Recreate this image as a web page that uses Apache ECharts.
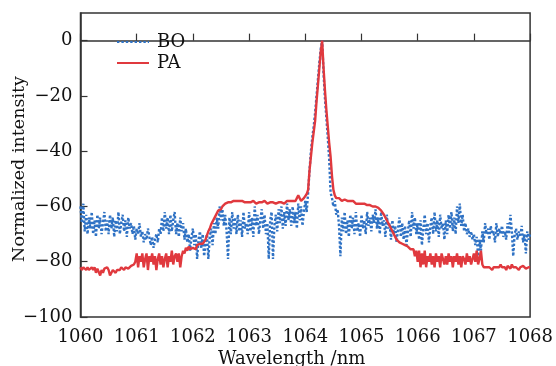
<!DOCTYPE html>
<html>
<head>
<meta charset="utf-8">
<script src="https://cdn.jsdelivr.net/npm/echarts@6/dist/echarts.min.js"></script>
<style>
html,body{margin:0;padding:0;background:#fff;}
#chart{width:556px;height:366px;}
</style>
</head>
<body>
<div id="chart"></div>
<script>
// Wavelength grid: 1060 nm to 1068 nm, sampled every 0.025 nm
const wlStart = 1060;
const wlStep = 0.025;

const xTicks = [1060, 1061, 1062, 1063, 1064, 1065, 1066, 1067, 1068];
const yTicks = [-100, -80, -60, -40, -20, 0];

const seriesNames = ['BO', 'PA'];

// BO (blue dotted) normalized intensity values
const boValues = [
  -60,-66,-59,-69,-63,-70,-64,-68,-62,-70,
  -65,-71,-63,-68,-64,-70,-66,-62,-69,-65,
  -70,-63,-68,-64,-71,-65,-69,-62,-70,-66,
  -63,-69,-65,-71,-64,-68,-66,-70,-67,-72,
  -68,-70,-66,-71,-69,-73,-70,-72,-68,-71,
  -74,-71,-75,-72,-70,-73,-68,-70,-64,-69,
  -62,-68,-64,-70,-63,-69,-65,-62,-70,-66,
  -71,-64,-69,-66,-72,-68,-73,-70,-76,-71,
  -68,-74,-70,-79,-72,-69,-75,-70,-78,-73,
  -70,-79,-71,-68,-74,-66,-70,-64,-68,-60,
  -65,-61,-67,-63,-69,-79,-64,-70,-62,-68,
  -64,-70,-63,-69,-65,-71,-62,-68,-66,-70,
  -62,-69,-64,-71,-60,-67,-63,-70,-65,-61,
  -68,-63,-70,-66,-79,-65,-62,-79,-67,-63,
  -69,-61,-66,-60,-68,-62,-67,-59,-65,-61,
  -67,-60,-66,-62,-68,-59,-65,-60,-67,-62,
  -58,-62,-55,-47,-40,-35,-31,-26,-20,-14,
  -8,-3,0,-12,-21,-28,-35,-43,-55,-57,
  -60,-58,-63,-61,-67,-78,-64,-69,-62,-70,
  -65,-71,-63,-68,-64,-70,-62,-69,-66,-71,
  -63,-68,-65,-70,-62,-67,-64,-69,-63,-66,
  -61,-68,-64,-70,-62,-67,-65,-71,-63,-68,
  -66,-72,-65,-70,-67,-73,-68,-64,-71,-66,
  -72,-67,-74,-69,-65,-71,-62,-68,-64,-70,
  -66,-72,-65,-74,-68,-63,-70,-66,-73,-67,
  -64,-70,-62,-69,-65,-71,-63,-68,-66,-72,
  -65,-70,-63,-68,-62,-69,-64,-70,-60,-66,
  -59,-67,-63,-69,-66,-70,-68,-71,-69,-72,
  -70,-74,-71,-78,-72,-76,-69,-73,-66,-70,
  -68,-72,-67,-70,-69,-73,-66,-71,-68,-70,
  -67,-71,-69,-72,-66,-70,-63,-69,-78,-70,
  -68,-72,-69,-71,-67,-73,-70,-77,-69,-72,
  -70
];

// PA (red solid) normalized intensity values
const paValues = [
  -82,-83,-82,-82.5,-83,-82,-83,-82.5,-82,-83,
  -82,-84,-82.5,-83,-85,-83,-84,-82.5,-83,-82,
  -83,-85,-84,-83,-82.5,-84,-83,-82.5,-83,-82,
  -82.5,-83,-82,-81.5,-82.5,-82,-81.5,-82,-81,-80,
  -77,-82,-78,-80,-77,-82,-79,-77,-83,-78,
  -80,-77,-81,-78,-83,-79,-77,-81,-78,-82,
  -79,-77,-82,-78,-80,-76,-81,-78,-77,-80,
  -77,-82,-78,-76,-77,-75,-76,-74.5,-75.5,-75,
  -75,-74.5,-75.5,-74,-74.5,-73.5,-73,-73.5,-73,-72,
  -70.5,-69,-68,-66.5,-66,-64.5,-63.5,-62.5,-61.5,-61,
  -61,-60,-59.5,-59,-58.5,-58.5,-58,-58.5,-58,-58,
  -58.5,-58,-58.5,-58,-58.5,-58,-58.5,-58.5,-58,-58.5,
  -58,-58.5,-58.5,-58,-58.5,-59,-58.5,-58.5,-58,-58.5,
  -58.5,-58,-58.5,-59,-58.5,-58.5,-58,-58.5,-58.5,-59,
  -58.5,-58.5,-58,-58.5,-58.5,-59,-58.5,-58,-58.5,-58,
  -58.5,-58,-57.5,-58,-57,-56,-56.5,-58,-58.5,-57,
  -56.5,-55.5,-54,-47,-42,-37,-33,-29,-22,-16,
  -10,-4,0,-10,-18,-25,-31,-37,-42,-49,
  -54,-56,-57,-57.5,-57,-57.5,-58,-58,-57.5,-58,
  -58,-58.5,-58,-58.5,-58,-58.5,-59,-58.5,-59,-59,
  -59,-59.5,-59,-59.5,-59.5,-59,-59.5,-59.5,-60,-60,
  -60,-60.5,-60.5,-61,-61.5,-62,-63,-64,-65,-66,
  -67,-68,-69,-70,-71,-72,-72.5,-73,-73.5,-73.5,
  -74,-74,-74.5,-74.5,-75,-75.5,-76,-75.5,-78,-76,
  -80,-76,-82,-77,-81,-76,-82,-78,-80,-77,
  -81,-78,-82,-77,-80,-78,-82,-77,-79,-81,
  -78,-81,-77,-80,-78,-82,-78,-80,-77,-81,
  -78,-82,-78,-79,-81,-77,-80,-78,-81,-79,
  -77,-80,-76,-81,-79,-76,-81,-82,-81.5,-82,
  -82.5,-82,-82.5,-83,-82,-81.5,-82,-82.5,-82,-81,
  -82,-81.5,-82,-83,-81.5,-82,-82.5,-81,-82,-82.5,
  -82,-81.5,-83,-82,-82.5,-81.5,-82,-82.5,-83,-82,
  -82
];

const wavelengths = boValues.map((_, i) => +(wlStart + i * wlStep).toFixed(3));
const boData = wavelengths.map((w, i) => [w, boValues[i]]);
const paData = wavelengths.map((w, i) => [w, paValues[i]]);

const FONT = 'DejaVu Serif';
const fmtMinus = v => (v < 0 ? '\u2212' + Math.abs(v) : String(v));

const chart = echarts.init(document.getElementById('chart'), null, {renderer: 'canvas'});
chart.setOption({
  animation: false,
  backgroundColor: '#ffffff',
  grid: {
    left: 80.5, right: 23, top: 13, bottom: 49,
    show: true, borderColor: '#333', borderWidth: 1.5, backgroundColor: 'transparent'
  },
  legend: {
    orient: 'vertical',
    left: 111, top: 28,
    itemWidth: 32, itemHeight: 12, itemGap: 3,
    itemStyle: {opacity: 0},
    textStyle: {fontFamily: FONT, fontSize: 18, color: '#111', padding: [0, 0, 0, 3]},
    data: seriesNames
  },
  xAxis: {
    type: 'value',
    min: xTicks[0], max: xTicks[xTicks.length - 1], interval: 1,
    axisLine: {show: true, lineStyle: {color: '#333', width: 1.5}},
    axisTick: {show: true, inside: true, length: 7, lineStyle: {color: '#333', width: 1.2}},
    axisLabel: {fontFamily: FONT, fontSize: 18, color: '#111', margin: 11, formatter: v => String(v)},
    splitLine: {show: false}
  },
  yAxis: {
    type: 'value',
    min: yTicks[0], max: 10, interval: 20,
    axisLine: {show: true, lineStyle: {color: '#333', width: 1.5}},
    axisTick: {show: true, inside: true, length: 7, lineStyle: {color: '#333', width: 1.2}},
    axisLabel: {fontFamily: FONT, fontSize: 18, color: '#111', margin: 8, showMaxLabel: false, formatter: fmtMinus},
    splitLine: {show: false}
  },
  graphic: [
    {type: 'text', left: 218, top: 350,
     style: {text: 'Wavelength /nm', fontFamily: FONT, fontSize: 18, fill: '#111'}},
    {type: 'text', x: 19, y: 169, rotation: Math.PI / 2,
     style: {text: 'Normalized intensity', fontFamily: FONT, fontSize: 17.5, fill: '#111', align: 'center', verticalAlign: 'middle'}}
  ],
  series: [
    {
      name: seriesNames[0], type: 'line', data: boData, symbol: 'none',
      lineStyle: {color: '#2f72c4', width: 2.4, type: [2.4, 2]},
      itemStyle: {color: '#2f72c4'}, z: 2
    },
    {
      name: seriesNames[1], type: 'line', data: paData, symbol: 'none',
      lineStyle: {color: '#e0393e', width: 2.4},
      itemStyle: {color: '#e0393e'}, z: 3
    }
  ]
});
</script>
</body>
</html>
